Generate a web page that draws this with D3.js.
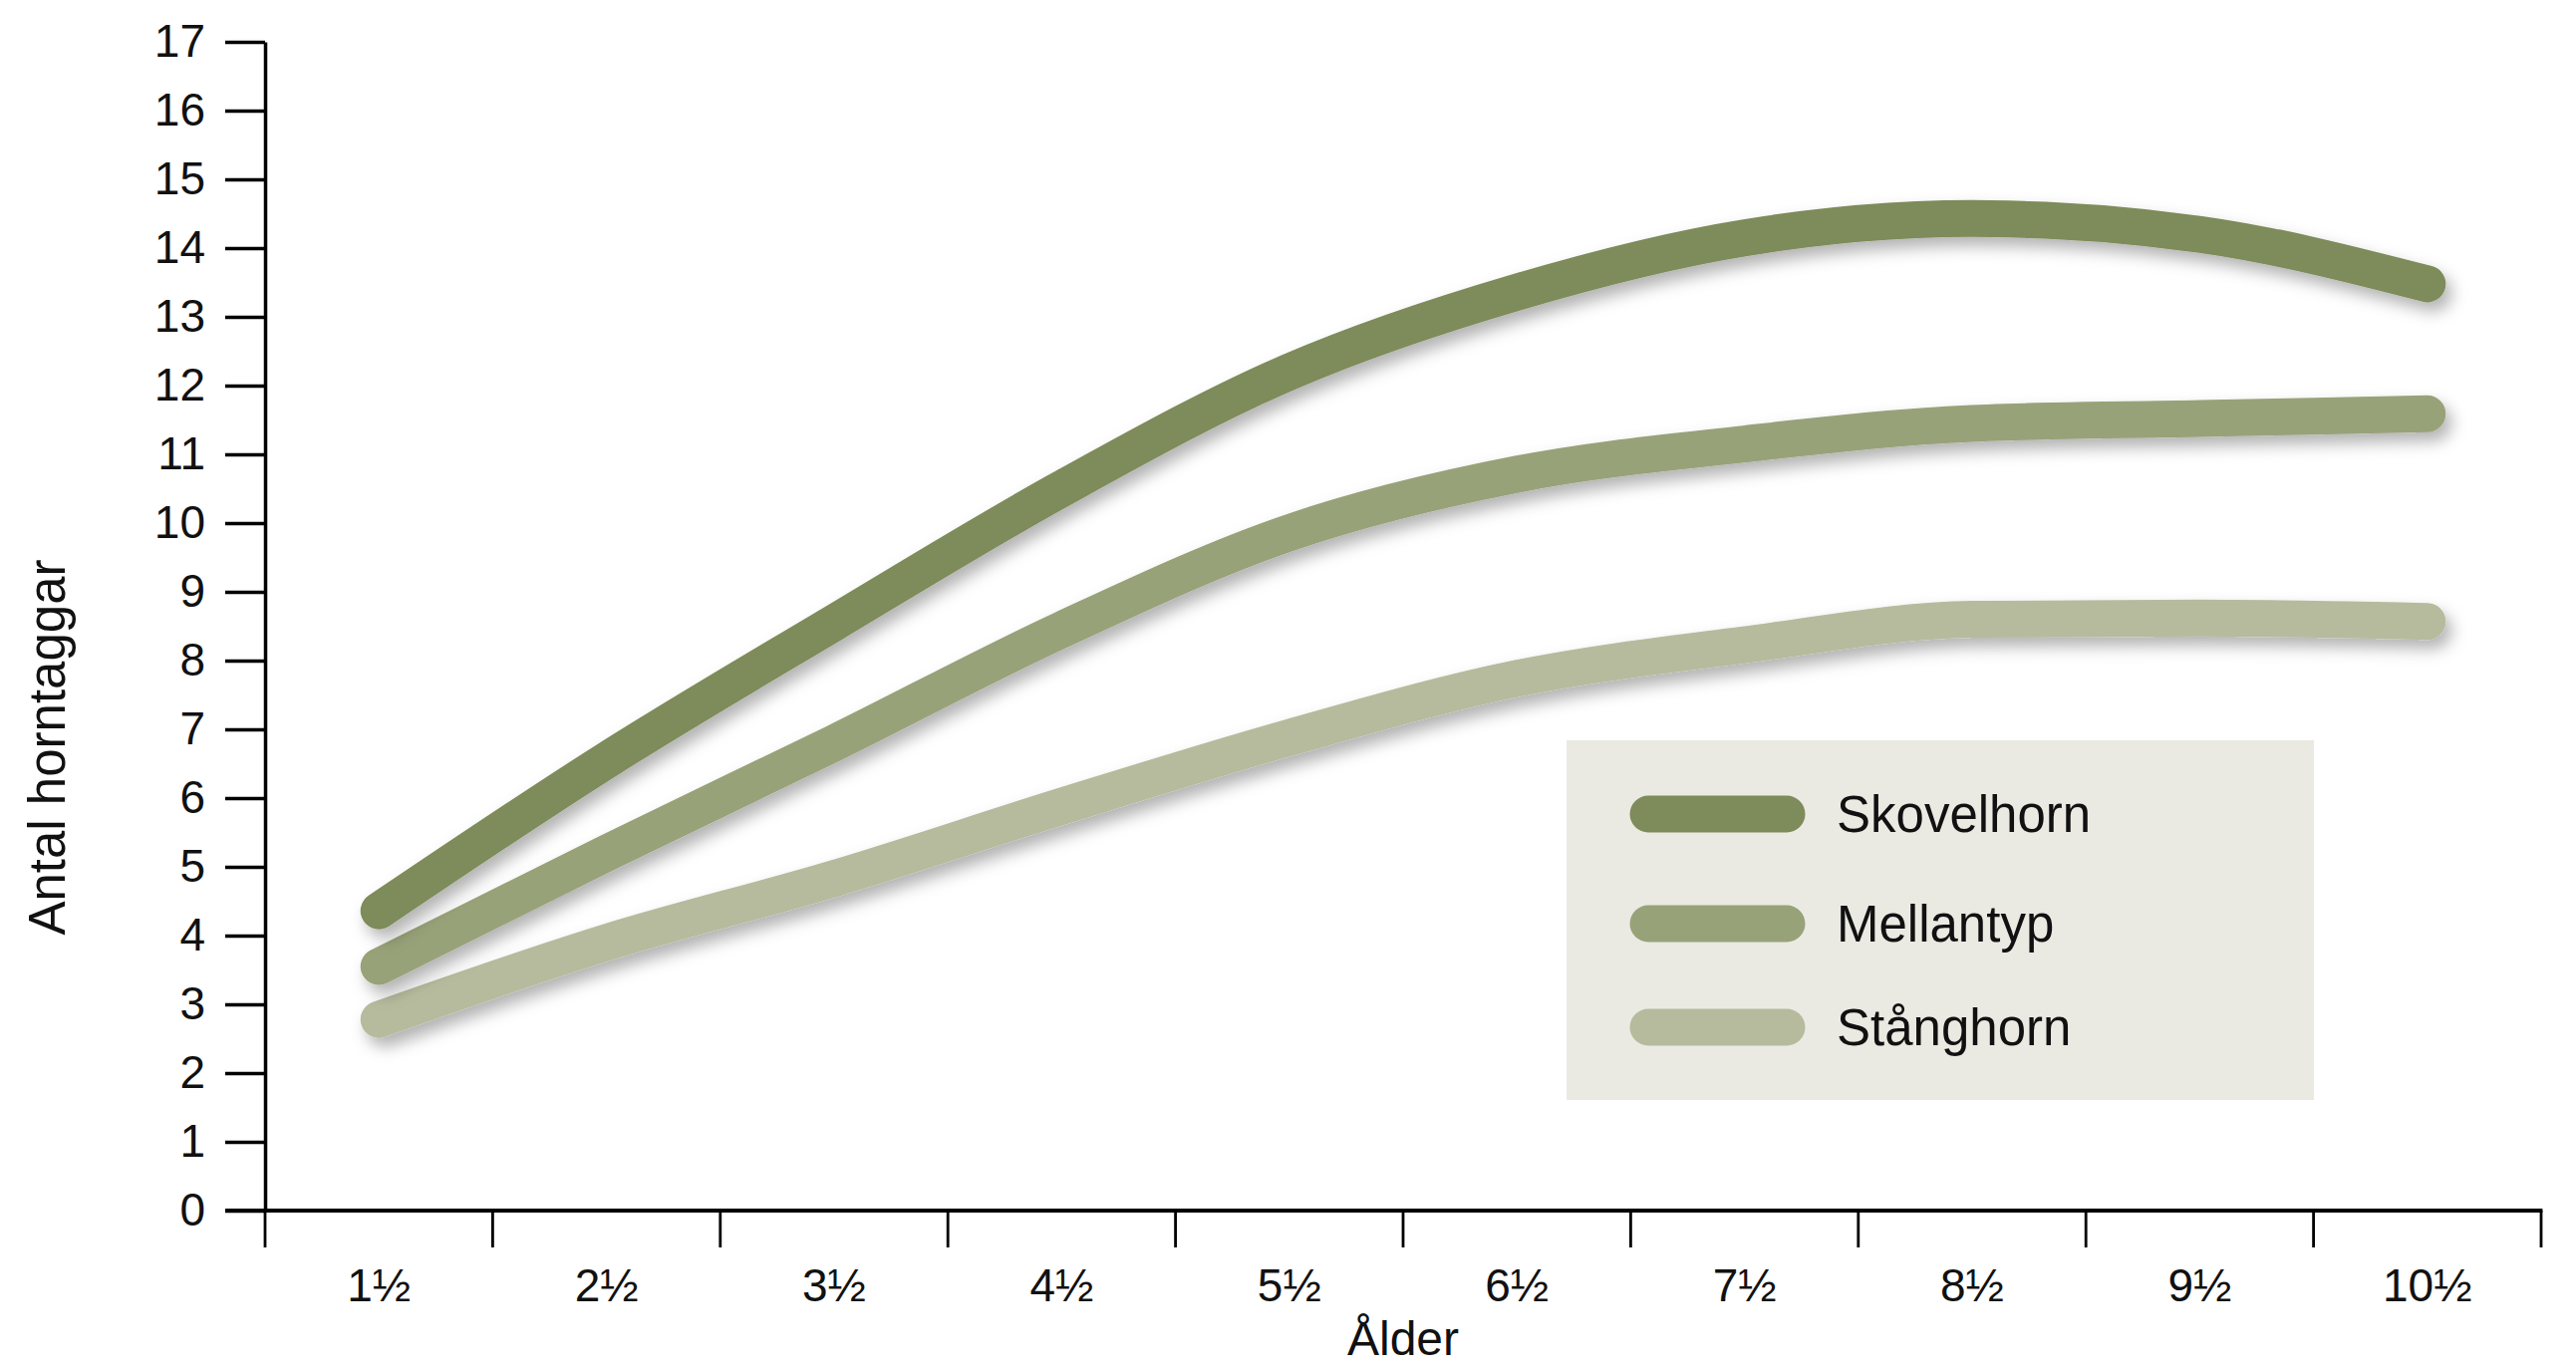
<!DOCTYPE html>
<html>
<head>
<meta charset="utf-8">
<script src="https://cdn.jsdelivr.net/npm/d3@7"></script>
<style>
  body { margin: 0; background: #fff; }
  text { font-family: "Liberation Sans", Arial, Helvetica, sans-serif; fill: #111; }
</style>
</head>
<body>
<div id="chart"></div>
<script>
// data
var ages = ["1½", "2½", "3½", "4½", "5½", "6½", "7½", "8½", "9½", "10½"];
var skovelhorn = [4.36, 6.55, 8.55, 10.5, 12.2, 13.36, 14.15, 14.43, 14.2, 13.48];
var mellantyp  = [3.55, 5.2, 6.8, 8.45, 9.86, 10.71, 11.15, 11.45, 11.52, 11.59];
var stanghorn  = [2.78, 3.9, 4.83, 5.88, 6.88, 7.74, 8.23, 8.60, 8.62, 8.57];
var seriesNames = ["Skovelhorn", "Mellantyp", "Stånghorn"];
var seriesColors = ["#7e8b5a", "#97a279", "#b6bb9d"];
var yTicks = d3.range(0, 18);

var width = 2585, height = 1374;
var plotLeft = 266, plotRight = 2550, plotTop = 42, plotBottom = 1215;

var svg = d3.select("#chart").append("svg")
    .attr("width", width)
    .attr("height", height);

// soft shadow under the thick lines
var filter = svg.append("defs").append("filter")
    .attr("id", "shadow")
    .attr("x", "-10%").attr("y", "-20%")
    .attr("width", "120%").attr("height", "150%");
filter.append("feDropShadow")
    .attr("dx", 6).attr("dy", 9)
    .attr("stdDeviation", 8)
    .attr("flood-color", "#000")
    .attr("flood-opacity", 0.3);

var x = d3.scaleBand().domain(ages).range([plotLeft, plotRight]);
var y = d3.scaleLinear().domain([0, 17]).range([plotBottom, plotTop]);

// y axis
var yAxis = svg.append("g")
    .attr("transform", "translate(" + plotLeft + ",0)")
    .call(d3.axisLeft(y).tickValues(yTicks).tickSize(40).tickSizeOuter(0).tickPadding(20));
yAxis.select(".domain").attr("stroke", "#000").attr("stroke-width", 3.5);
yAxis.selectAll(".tick line").attr("stroke", "#000").attr("stroke-width", 3.4);
yAxis.selectAll(".tick text")
    .attr("font-size", 46)
    .attr("font-family", "Liberation Sans, Arial, sans-serif")
    .attr("fill", "#111");

// x axis: labels in the middle of each band, ticks on band edges
var xAxis = svg.append("g")
    .attr("transform", "translate(0," + plotBottom + ")")
    .call(d3.axisBottom(x).tickSize(0).tickPadding(58));
xAxis.select(".domain").remove();
xAxis.selectAll(".tick text")
    .attr("font-size", 46)
    .attr("font-family", "Liberation Sans, Arial, sans-serif")
    .attr("fill", "#111");

var edges = ages.map(function(d) { return x(d); }).concat([plotRight]);
svg.append("g").selectAll("line")
    .data(edges)
    .enter()
    .append("line")
    .attr("x1", function(d) { return d; })
    .attr("x2", function(d) { return d; })
    .attr("y1", plotBottom)
    .attr("y2", plotBottom + 37)
    .attr("stroke", "#000")
    .attr("stroke-width", 2.8);

svg.append("line")
    .attr("x1", plotLeft - 40).attr("x2", plotRight + 1.4)
    .attr("y1", plotBottom).attr("y2", plotBottom)
    .attr("stroke", "#000")
    .attr("stroke-width", 4.2);

// axis titles
svg.append("text")
    .attr("x", (plotLeft + plotRight) / 2)
    .attr("y", 1360)
    .attr("text-anchor", "middle")
    .attr("font-size", 48)
    .text("Ålder");

svg.append("text")
    .attr("transform", "translate(65,750) rotate(-90)")
    .attr("text-anchor", "middle")
    .attr("font-size", 51)
    .text("Antal horntaggar");

// lines
var line = d3.line()
    .x(function(d, i) { return x(ages[i]) + x.bandwidth() / 2; })
    .y(function(d) { return y(d); })
    .curve(d3.curveMonotoneX);

var allSeries = [stanghorn, mellantyp, skovelhorn];
var allColors = [seriesColors[2], seriesColors[1], seriesColors[0]];

svg.append("g").selectAll("path")
    .data(allSeries)
    .enter()
    .append("path")
    .attr("d", line)
    .attr("fill", "none")
    .attr("stroke", function(d, i) { return allColors[i]; })
    .attr("stroke-width", 37)
    .attr("stroke-linecap", "round")
    .attr("stroke-linejoin", "round")
    .attr("filter", "url(#shadow)");

// legend
var legend = svg.append("g");
legend.append("rect")
    .attr("x", 1572).attr("y", 743)
    .attr("width", 750).attr("height", 361)
    .attr("fill", "#eaeae3");

var legendY = [817, 927, 1031];
legend.selectAll("line")
    .data(seriesNames)
    .enter()
    .append("line")
    .attr("x1", 1654).attr("x2", 1793)
    .attr("y1", function(d, i) { return legendY[i]; })
    .attr("y2", function(d, i) { return legendY[i]; })
    .attr("stroke", function(d, i) { return seriesColors[i]; })
    .attr("stroke-width", 37)
    .attr("stroke-linecap", "round");

legend.selectAll("text")
    .data(seriesNames)
    .enter()
    .append("text")
    .attr("x", 1843)
    .attr("y", function(d, i) { return legendY[i]; })
    .attr("dy", "0.35em")
    .attr("font-size", 51)
    .text(function(d) { return d; });
</script>
</body>
</html>
